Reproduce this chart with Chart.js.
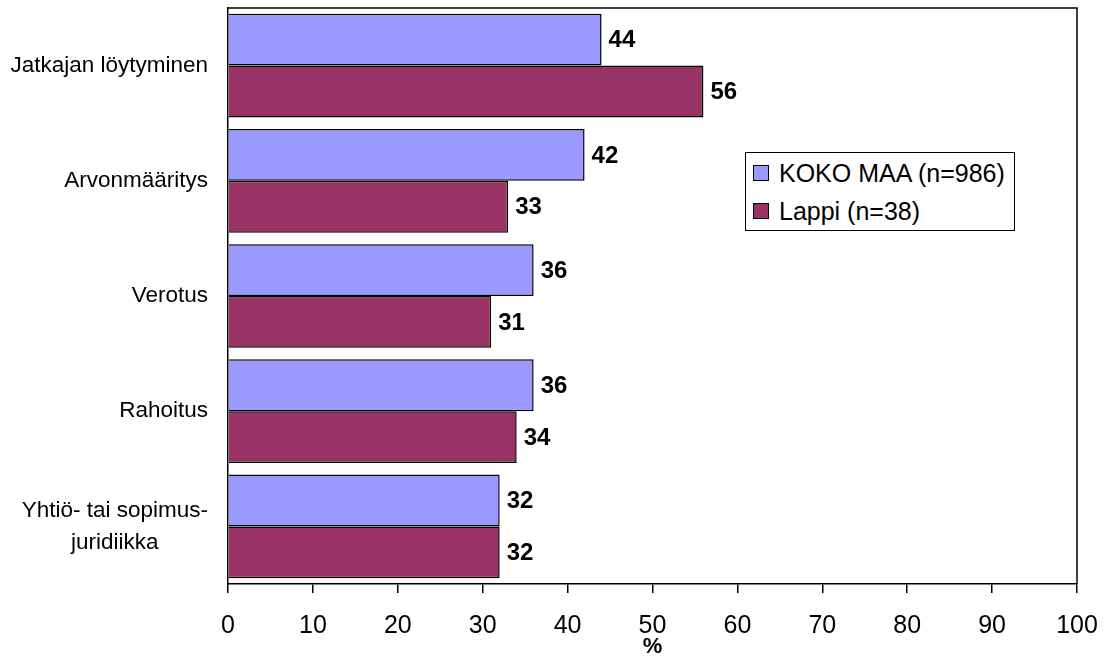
<!DOCTYPE html>
<html>
<head>
<meta charset="utf-8">
<script src="https://cdn.jsdelivr.net/npm/chart.js@4"></script>
<style>
  body { margin: 0; background: #fff; }
  #wrap { position: relative; width: 1104px; height: 663px; }
  #legend {
    position: absolute; left: 745px; top: 152px; width: 268px; height: 77px;
    border: 1px solid #000; background: #fff;
    font-family: "Liberation Sans", Arial, sans-serif; font-size: 25px; color: #000;
  }
  #legend .item { position: absolute; left: 7px; height: 28px; line-height: 28px; white-space: nowrap; }
  #legend .sw { display: inline-block; width: 14px; height: 14px; border: 1px solid #000; margin-right: 10px; vertical-align: 1px; }
</style>
</head>
<body>
<div id="wrap">
  <canvas id="chart" width="1104" height="663"></canvas>
  <div id="legend"></div>
</div>
<script>
document.addEventListener("DOMContentLoaded", function () {
  // data
  const categories = ["Jatkajan löytyminen", "Arvonmääritys", "Verotus", "Rahoitus", ["Yhtiö- tai sopimus-", "juridiikka"]];
  const kokoMaa = [44, 42, 36, 36, 32];
  const lappi = [56, 33, 31, 34, 32];
  const seriesNames = ["KOKO MAA (n=986)", "Lappi (n=38)"];
  const seriesColors = ["#9999ff", "#993366"];
  const xTicks = [0, 10, 20, 30, 40, 50, 60, 70, 80, 90, 100];

  const FONT = "'Liberation Sans', Arial, sans-serif";

  // legend as html
  const legend = document.getElementById("legend");
  seriesNames.forEach((name, i) => {
    const d = document.createElement("div");
    d.className = "item";
    d.style.top = (i === 0 ? 6 : 44) + "px";
    d.innerHTML = '<span class="sw" style="background:' + seriesColors[i] + '"></span>' + name;
    legend.appendChild(d);
  });

  // frame on top/right of plot area
  const framePlugin = {
    id: "frame",
    afterDraw(chart) {
      const a = chart.chartArea, c = chart.ctx;
      c.save();
      c.strokeStyle = "#000";
      c.lineWidth = 1.5;
      c.beginPath();
      c.moveTo(a.left, a.top);
      c.lineTo(a.right, a.top);
      c.lineTo(a.right, a.bottom);
      c.stroke();
      c.restore();
    }
  };

  // category labels: right aligned block, lines centred inside it
  const catLabels = {
    id: "catLabels",
    afterDraw(chart) {
      const y = chart.scales.y, c = chart.ctx;
      c.save();
      c.font = "22.5px " + FONT;
      c.fillStyle = "#000";
      c.textAlign = "center";
      c.textBaseline = "middle";
      categories.forEach((lab, i) => {
        const lines = Array.isArray(lab) ? lab : [lab];
        const w = Math.max(...lines.map((l) => c.measureText(l).width));
        const cx = 208 - w / 2;
        const cy = y.getPixelForTick(i);
        const lh = 32;
        lines.forEach((l, j) => {
          c.fillText(l, cx, cy + (j - (lines.length - 1) / 2) * lh);
        });
      });
      c.restore();
    }
  };

  // value labels at the bar ends
  const valueLabels = {
    id: "valueLabels",
    afterDatasetsDraw(chart) {
      const c = chart.ctx;
      c.save();
      c.font = "bold 24px " + FONT;
      c.fillStyle = "#000";
      c.textAlign = "left";
      c.textBaseline = "middle";
      chart.data.datasets.forEach((ds, di) => {
        chart.getDatasetMeta(di).data.forEach((bar, i) => {
          c.fillText(ds.data[i], bar.x + 7, bar.y + 1);
        });
      });
      c.restore();
    }
  };

  new Chart(document.getElementById("chart"), {
    type: "bar",
    data: {
      labels: categories,
      datasets: [
        { label: seriesNames[0], data: kokoMaa, backgroundColor: seriesColors[0], borderColor: "#000", borderWidth: 1.5 },
        { label: seriesNames[1], data: lappi, backgroundColor: seriesColors[1], borderColor: "#000", borderWidth: 1.5 },
      ],
    },
    options: {
      indexAxis: "y",
      responsive: false,
      animation: false,
      categoryPercentage: 0.9,
      barPercentage: 1.0,
      layout: { padding: { top: 8, right: 27, left: 0, bottom: 3 } },
      plugins: { legend: { display: false }, tooltip: { enabled: false } },
      scales: {
        x: {
          min: 0,
          max: 100,
          afterBuildTicks: (s) => { s.ticks = xTicks.map((v) => ({ value: v })); },
          afterFit: (s) => { s.height = 76; s.paddingLeft = 0; s.paddingRight = 0; },
          ticks: { color: "#000", font: { family: FONT, size: 25 }, padding: 18, maxRotation: 0 },
          grid: { display: true, drawOnChartArea: false, tickLength: 9, color: "#000", lineWidth: 1.5 },
          border: { display: true, color: "#000", width: 1.5 },
          title: { display: true, text: "%", color: "#000", font: { family: FONT, size: 22, weight: "bold" }, padding: { top: 0, bottom: 0 } },
        },
        y: {
          afterFit: (s) => { s.width = 228; s.paddingTop = 0; s.paddingBottom = 0; },
          ticks: { display: false },
          grid: { display: false },
          border: { display: true, color: "#000", width: 1.5 },
        },
      },
    },
    plugins: [framePlugin, catLabels, valueLabels],
  });
});
</script>
</body>
</html>
